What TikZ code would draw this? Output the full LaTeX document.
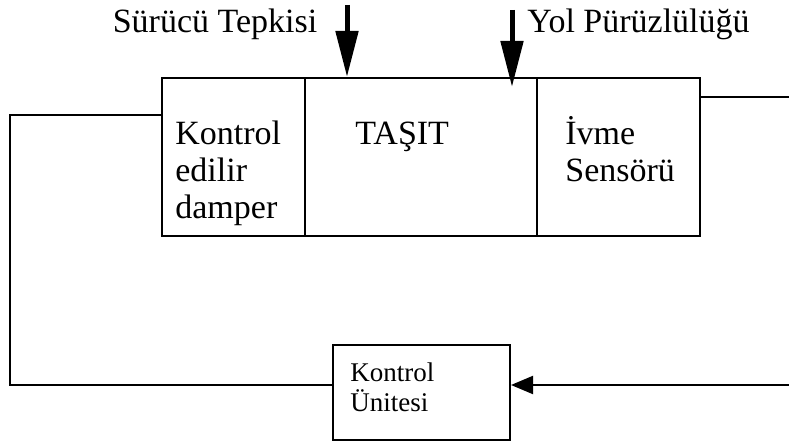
\documentclass[tikz,border=0pt]{standalone}
\usepackage{fontspec}
\setmainfont{Liberation Serif}
\usetikzlibrary{arrows.meta,calc}

\begin{document}
\begin{tikzpicture}[
    x=0.5pt, y=0.5pt,
    cell/.style={draw, line width=1pt, inner sep=0pt, minimum height=79pt},
    label/.style={inner sep=0pt, font=\fontsize{17}{18.5}\selectfont},
    small/.style={inner sep=0pt, align=left, font=\fontsize{13.5}{15}\selectfont},
    feed/.style={line width=1pt},
    input/.style={line width=2.5pt, -{Triangle[length=23pt,width=11pt]}},
    ]
    \useasboundingbox (0,0) rectangle (789,445);

    \node at(233.5,288) [cell, minimum width=71.5pt](damper){};
    \node at(421,288) [cell, minimum width=116pt](tasit){};
    \node at(618.5,288) [cell, minimum width=81.5pt](sensor){};
    \node at(421.5,52.5) [cell, minimum width=88.5pt, minimum height=47.5pt](unit){};

    % base of a multi-line node sits on its last line
    \node at(175,226) [label, anchor=base west, align=left](damperlbl){Kontrol\\edilir\\damper};
    \node at(355,300) [label, anchor=base west](tasitlbl){TAŞIT};
    \node at(565,263) [label, anchor=base west, align=left](sensorlbl){İvme\\Sensörü};
    \node at(350,33) [small, anchor=base west](unitlbl){Kontrol\\Ünitesi};

    \node at(215,412) [label, anchor=base](driver){Sürücü Tepkisi};
    \node at(527,412) [label, anchor=base west](road){Yol Pürüzlülüğü};

    % inputs from above
    \coordinate (drvtop) at (347,440);
    \coordinate (roadtop) at (512,435);
    \draw[input] (drvtop) -- ([xshift=-37pt] tasit.north);
    \draw[input] (roadtop) -- ([xshift=45.5pt, yshift=-5pt] tasit.north);

    % feedback loop
    \coordinate (outR) at (789,348);
    \coordinate (inR) at (789,60);
    \draw[feed] ([yshift=30pt] sensor.east) -- (outR);
    \draw[feed, -{Triangle[length=11pt,width=9pt]}] (inR) -- ([yshift=3.75pt] unit.east);
    \draw[feed] ([yshift=21pt] damper.west) -- ++(-151,0) |- ([yshift=3.75pt] unit.west);
\end{tikzpicture}
\end{document}
